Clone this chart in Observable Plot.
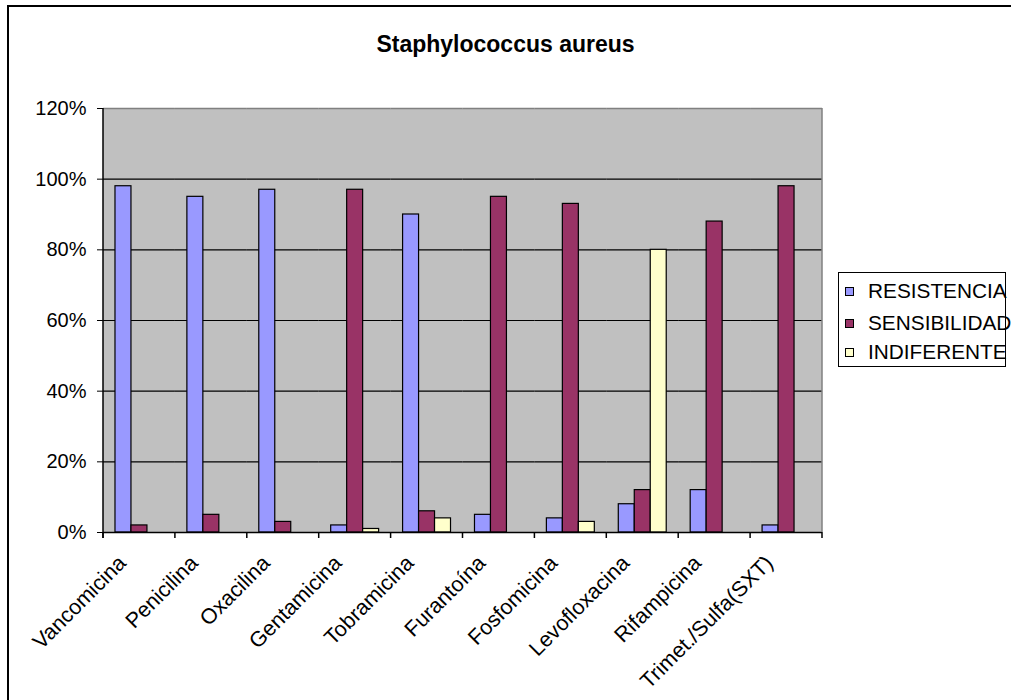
<!DOCTYPE html>
<html><head><meta charset="utf-8">
<script src="https://cdn.jsdelivr.net/npm/d3@7"></script>
<script src="https://cdn.jsdelivr.net/npm/@observablehq/plot@0.6"></script>
<style>
body{margin:0;background:#fff;font-family:Arial,"Liberation Sans",sans-serif;}
#wrap{position:relative;width:1011px;height:700px;overflow:hidden;}
#frame{position:absolute;left:7px;top:5px;width:1100px;height:800px;border-left:2px solid #000;border-top:2px solid #000;}
#title{position:absolute;left:0;width:1011px;top:30px;text-align:center;font-weight:bold;font-size:23px;line-height:28px;}
#chart{position:absolute;left:0;top:0;}
#legend{position:absolute;left:838px;top:272px;width:168px;height:95px;border:1px solid #000;box-sizing:border-box;background:#fff;font-size:20.8px;}
.item{position:absolute;left:6px;height:22px;line-height:22px;display:flex;align-items:center;white-space:nowrap;}
.sw{width:7px;height:7px;border:1px solid #000;margin-right:14px;}
</style></head><body>
<div id="wrap"><div id="frame"></div><div id="title">Staphylococcus aureus</div><div id="chart"></div><div id="legend"></div></div>
<script>
const categories = ["Vancomicina","Penicilina","Oxacilina","Gentamicina","Tobramicina","Furantoína","Fosfomicina","Levofloxacina","Rifampicina","Trimet./Sulfa(SXT)"];
const series = ["RESISTENCIA","SENSIBILIDAD","INDIFERENTE"];
const resistencia = [98,95,97,2,90,5,4,8,12,2];
const sensibilidad = [2,5,3,97,6,95,93,12,88,98];
const indiferente = [0,0,0,1,4,0,3,80,0,0];
const colors = ["#9999ff","#993366","#ffffcc"];
const yTicks = [0,20,40,60,80,100,120];

const seriesValues = [resistencia, sensibilidad, indiferente];
const rows = [];
categories.forEach((c,i)=>seriesValues.forEach((arr,j)=>rows.push({cat:c, serie:series[j], value:arr[i]})));

const plot = Plot.plot({
  width:1011, height:700, marginLeft:103, marginRight:189, marginTop:108, marginBottom:168,
  style:{fontFamily:"Arial, 'Liberation Sans', sans-serif", fontSize:"20px", background:"transparent", color:"#000", overflow:"visible"},
  fx:{domain:categories, paddingInner:0, paddingOuter:0, round:false, label:null, tickRotate:-45, tickSize:0, tickPadding:10},
  x:{domain:series, paddingInner:0, paddingOuter:0.75, round:false, axis:null},
  y:{domain:[0,120], ticks:yTicks, tickFormat:d=>d+"%", tickSize:6, tickPadding:11, label:null},
  color:{domain:series, range:colors},
  marks:[
    Plot.ruleY(yTicks.slice(1,-1), {stroke:"#000", strokeWidth:1.2}),
    Plot.ruleY([120], {stroke:"#808080", strokeWidth:1.5}),
    Plot.barY(rows.filter(d=>d.value>0), {fx:"cat", x:"serie", y:"value", fill:"serie", stroke:"#000", strokeWidth:1.2}),
    Plot.ruleY([0], {stroke:"#000", strokeWidth:1.5})
  ]
});
document.getElementById("chart").appendChild(plot);

// plot-area background, axis lines and category boundary ticks from the plot's own scales
const fx = plot.scale("fx"), y = plot.scale("y");
const x0 = fx.apply(categories[0]);
const x1 = fx.apply(categories[categories.length-1]) + fx.bandwidth;
const y0 = y.apply(0), yTop = y.apply(120);
const sel = d3.select(plot);
sel.insert("rect", ":first-child").attr("x",x0).attr("y",yTop).attr("width",x1-x0).attr("height",y0-yTop).attr("fill","#c0c0c0");
const g = sel.append("g");
g.append("line").attr("x1",x1).attr("x2",x1).attr("y1",yTop).attr("y2",y0).attr("stroke","#808080").attr("stroke-width",1.5);
g.append("line").attr("x1",x0).attr("x2",x0).attr("y1",yTop).attr("y2",y0+6).attr("stroke","#000").attr("stroke-width",1.5);
const bounds = categories.map(c=>fx.apply(c)).concat([x1]);
g.selectAll("line.b").data(bounds).join("line").attr("class","b")
  .attr("x1",d=>d).attr("x2",d=>d).attr("y1",y0).attr("y2",y0+6).attr("stroke","#000").attr("stroke-width",1.5);

// category labels: slightly larger and nudged like the original
sel.selectAll('g[aria-label^="fx-axis"]').each(function(){
  const t = this.getAttribute("transform") || "";
  this.setAttribute("transform", t + " translate(-17,17)");
  this.setAttribute("font-size", "21.5");
});

// legend
const lg = d3.select("#legend");
const tops = [7, 39, 68];
series.forEach((s,i)=>{
  const it = lg.append("div").attr("class","item").style("top", tops[i]+"px");
  it.append("div").attr("class","sw").style("background", colors[i]);
  it.append("span").text(s);
});
</script>
</body></html>
